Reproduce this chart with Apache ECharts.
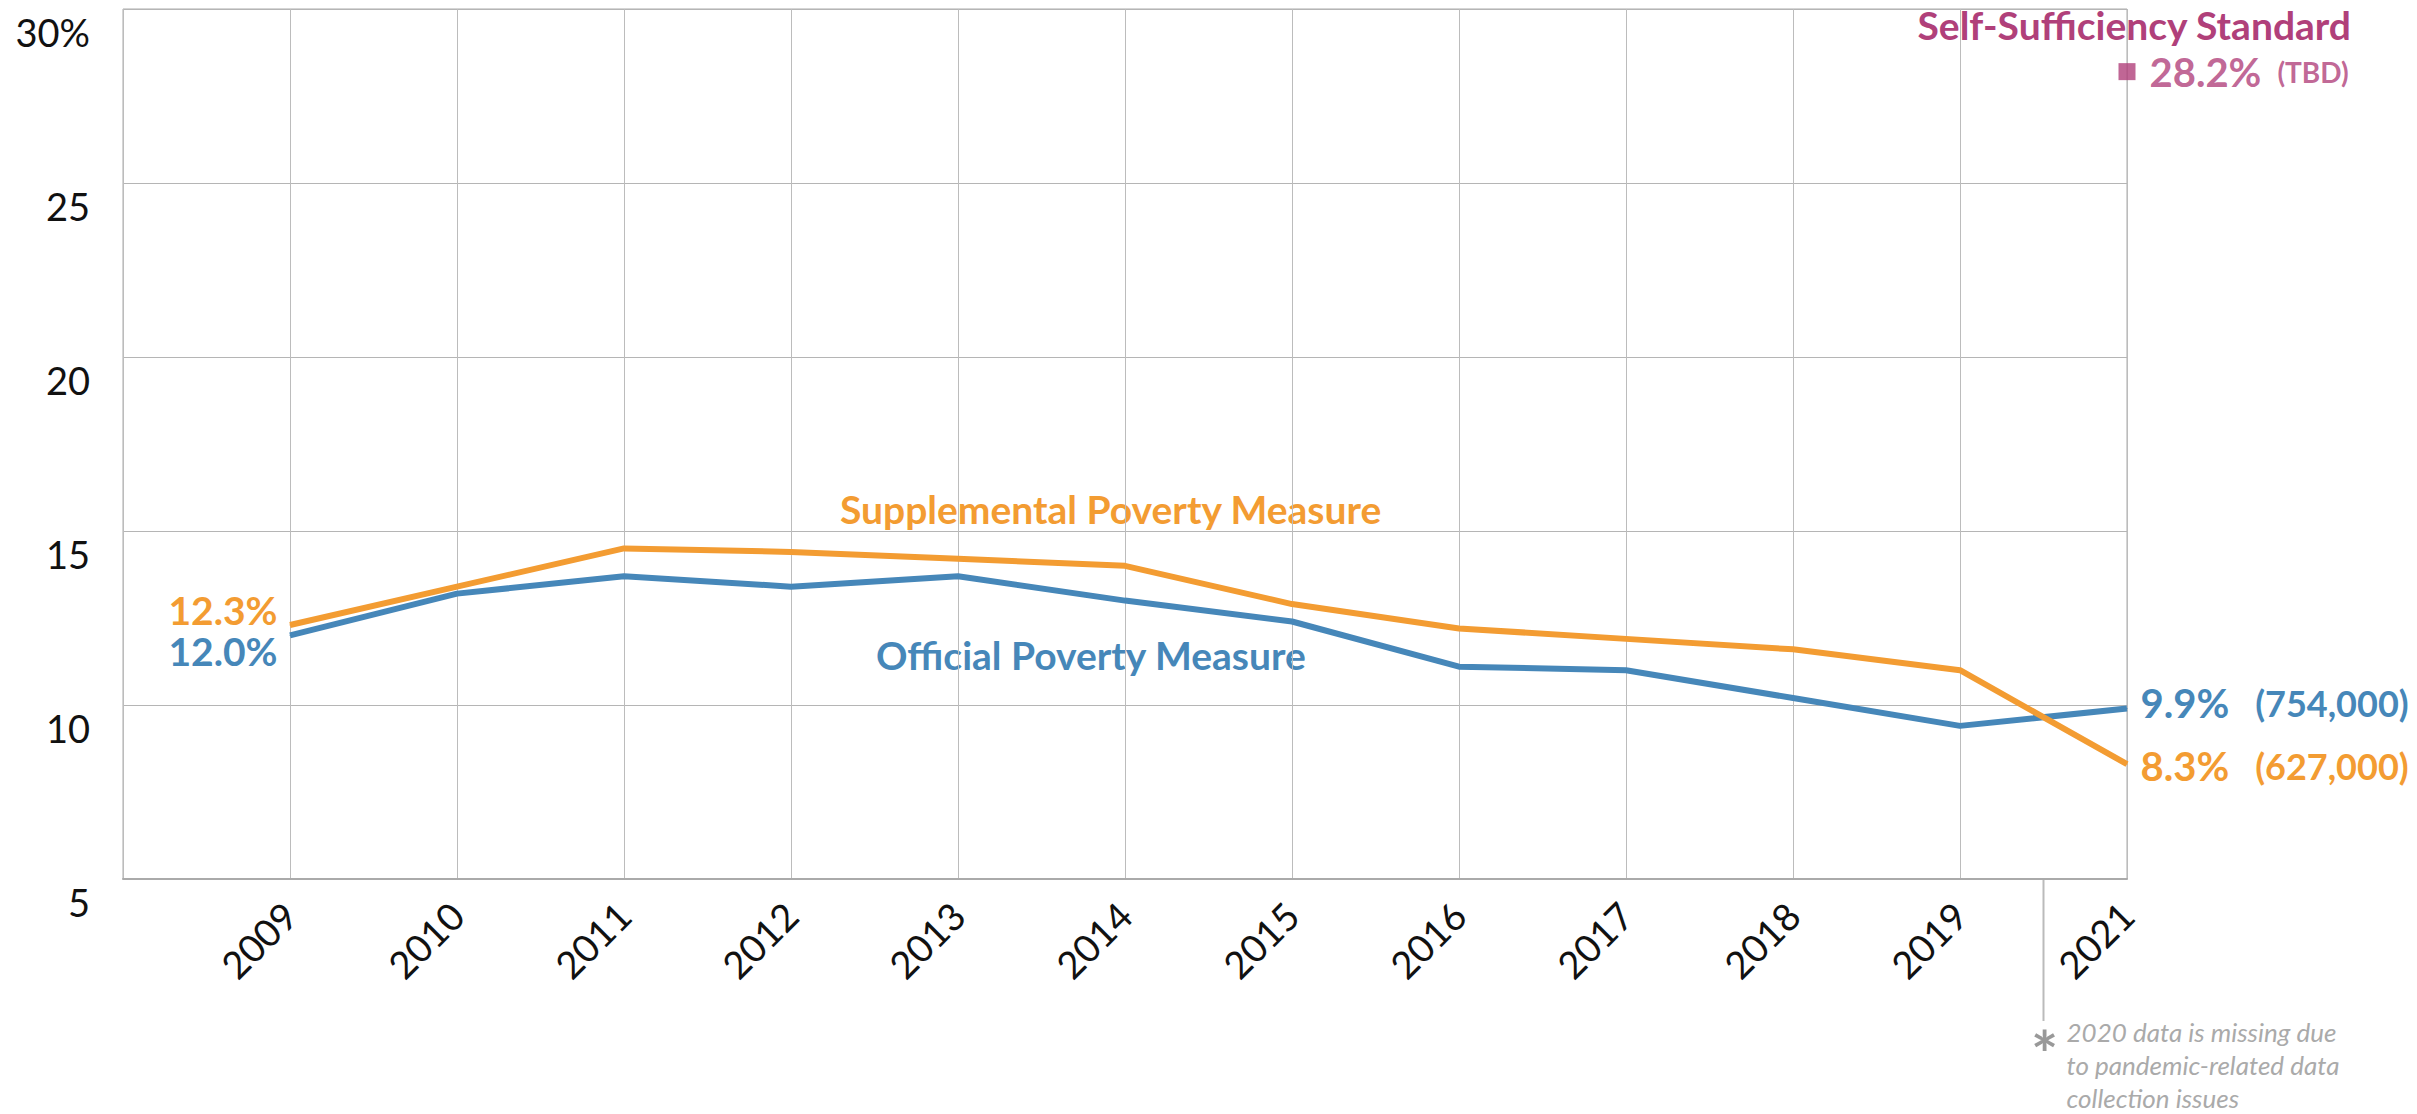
<!DOCTYPE html>
<html>
<head>
<meta charset="utf-8">
<script src="https://cdn.jsdelivr.net/npm/echarts@6/dist/echarts.min.js"></script>
<style>
html, body { margin: 0; padding: 0; background: #fff; }
#chart { width: 2417px; height: 1114px; }
</style>
</head>
<body>
<div id="chart"></div>
<script>
// years on the x axis (first slot is empty, 2020 is missing)
var years = ['', '2009', '2010', '2011', '2012', '2013', '2014', '2015', '2016', '2017', '2018', '2019', '2021'];
var official = [null, 12.0, 13.2, 13.7, 13.4, 13.7, 13.0, 12.4, 11.1, 11.0, 10.2, 9.4, 9.9];
var supplemental = [null, 12.3, 13.4, 14.5, 14.4, 14.2, 14.0, 12.9, 12.2, 11.9, 11.6, 11.0, 8.3];
var selfSufficiency = [null, null, null, null, null, null, null, null, null, null, null, null, 28.2];
var officialCount = '754,000';
var supplementalCount = '627,000';
var selfSufficiencyNote = 'TBD';
var yTicks = [5, 10, 15, 20, 25, 30];

var BLUE = '#4687b9', ORANGE = '#f39c32', MAGENTA = '#b0407a';
var FONT = 'Lato';

function lineData(values, count, color, firstOffset, lastOffset) {
    var last = values.length - 1;
    return values.map(function (v, i) {
        if (v === null) return '-';
        if (i === 1) {
            return {value: v, label: {show: true, position: 'left', distance: 12, offset: firstOffset,
                formatter: v.toFixed(1) + '%'}};
        }
        if (i === last) {
            return {value: v, label: {show: true, position: 'right', distance: 13, offset: lastOffset,
                formatter: '{a|' + v.toFixed(1) + '%}{b|(' + count + ')}',
                rich: {
                    a: {color: color, fontFamily: FONT, fontWeight: 'bold', fontSize: 40, lineHeight: 34},
                    b: {color: color, fontFamily: FONT, fontWeight: 'bold', fontSize: 36, lineHeight: 34, padding: [0, 0, 0, 26]}
                }}};
        }
        return v;
    });
}

var chart = echarts.init(document.getElementById('chart'), null, {renderer: 'svg'});

var option = {
    animation: false,
    backgroundColor: '#fff',
    grid: {left: 123, right: 290, top: 9, bottom: 235, show: true, borderColor: '#aaa', borderWidth: 1},
    xAxis: {
        type: 'category',
        data: years,
        boundaryGap: false,
        axisLine: {show: true, lineStyle: {color: '#aaa', width: 2}},
        axisTick: {show: false},
        splitLine: {show: true, lineStyle: {color: '#bcbcbc', width: 1}},
        axisLabel: {interval: 0, rotate: 45, margin: 30, fontFamily: FONT, fontSize: 38, color: '#111'}
    },
    yAxis: {
        type: 'value',
        min: yTicks[0],
        max: yTicks[yTicks.length - 1],
        interval: 5,
        axisLine: {show: false},
        axisTick: {show: false},
        splitLine: {lineStyle: {color: '#b5b5b5', width: 1}},
        axisLabel: {
            showMinLabel: true, showMaxLabel: true,
            fontFamily: FONT, fontSize: 38, color: '#111', margin: 33,
            verticalAlign: 'top', padding: [4, 0, 0, 0],
            formatter: function (v) { return v === 30 ? v + '%' : String(v); }
        }
    },
    series: [
        {
            name: 'Official Poverty Measure',
            type: 'line',
            data: lineData(official, officialCount, BLUE, [0, 16], [0, -5]),
            symbol: 'circle', symbolSize: 1, showSymbol: true,
            itemStyle: {color: BLUE},
            lineStyle: {color: BLUE, width: 6},
            label: {color: BLUE, fontFamily: FONT, fontWeight: 'bold', fontSize: 39, lineHeight: 32},
            z: 3
        },
        {
            name: 'Supplemental Poverty Measure',
            type: 'line',
            data: lineData(supplemental, supplementalCount, ORANGE, [0, -15], [0, 2]),
            symbol: 'circle', symbolSize: 1, showSymbol: true,
            itemStyle: {color: ORANGE},
            lineStyle: {color: ORANGE, width: 6},
            label: {color: ORANGE, fontFamily: FONT, fontWeight: 'bold', fontSize: 39, lineHeight: 32},
            z: 4
        },
        {
            name: 'Self-Sufficiency Standard',
            type: 'scatter',
            data: selfSufficiency.map(function (v) { return v === null ? '-' : v; }),
            symbol: 'rect',
            symbolSize: 17,
            itemStyle: {color: MAGENTA},
            label: {
                show: true, position: 'right', distance: 14,
                formatter: function (p) { return '{a|' + p.value.toFixed(1) + '%}{b|(' + selfSufficiencyNote + ')}'; },
                rich: {
                    a: {color: MAGENTA, fontFamily: FONT, fontWeight: 'bold', fontSize: 40},
                    b: {color: MAGENTA, fontFamily: FONT, fontWeight: 'bold', fontSize: 28, padding: [0, 0, 0, 16]}
                }
            },
            z: 5
        }
    ],
    graphic: [
        {type: 'text', x: 840, y: 509, style: {text: 'Supplemental Poverty Measure', fill: ORANGE,
            fontFamily: FONT, fontWeight: 'bold', fontSize: 39, align: 'left', verticalAlign: 'middle'}},
        {type: 'text', x: 876, y: 655, style: {text: 'Official Poverty Measure', fill: BLUE,
            fontFamily: FONT, fontWeight: 'bold', fontSize: 39, align: 'left', verticalAlign: 'middle'}},
        {type: 'text', x: 2351, y: 25, style: {text: 'Self-Sufficiency Standard', fill: MAGENTA,
            fontFamily: FONT, fontWeight: 'bold', fontSize: 39, align: 'right', verticalAlign: 'middle'}}
    ]
};

chart.setOption(option);

// footnote for the missing 2020 point, placed halfway between 2019 and 2021
var x19 = chart.convertToPixel({xAxisIndex: 0}, '2019');
var x21 = chart.convertToPixel({xAxisIndex: 0}, '2021');
var yBase = chart.convertToPixel({yAxisIndex: 0}, yTicks[0]);
var xMid = (x19 + x21) / 2;
option.graphic.push(
    {type: 'line', shape: {x1: xMid, y1: yBase, x2: xMid, y2: yBase + 142}, style: {stroke: '#bbb', lineWidth: 2}},
    {type: 'text', x: xMid + 1, y: yBase + 174, style: {text: '*', fill: '#999', fontFamily: FONT, fontWeight: 'bold',
        fontSize: 64, align: 'center', verticalAlign: 'middle'}},
    {type: 'text', x: xMid + 23, y: yBase + 136, style: {
        text: '2020 data is missing due\nto pandemic-related data\ncollection issues',
        fill: '#aaa', fontFamily: FONT, fontStyle: 'italic', fontSize: 26, lineHeight: 33,
        align: 'left', verticalAlign: 'top'}}
);
chart.setOption({graphic: option.graphic});
</script>
</body>
</html>
